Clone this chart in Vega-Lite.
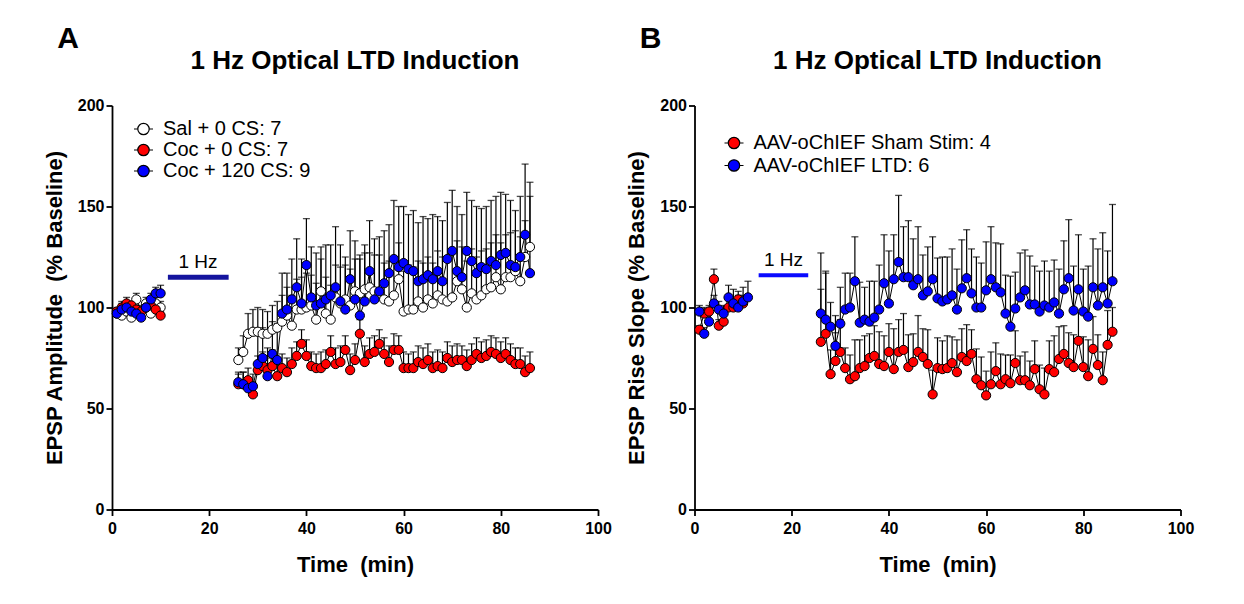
{
 "$schema": "https://vega.github.io/schema/vega-lite/v6.json",
 "background": "white",
 "padding": {"left": 43, "top": 23.5, "right": 5, "bottom": 5},
 "config": {
  "font": "Liberation Sans",
  "view": {"stroke": null},
  "axis": {"grid": false, "labelFlush": false, "domainColor": "black", "domainWidth": 1.8, "tickColor": "black", "tickWidth": 1.8, "tickSize": 6, "labelFont": "Liberation Sans", "labelFontSize": 16, "labelFontWeight": "bold", "labelColor": "black", "labelPadding": 3, "titleFont": "Liberation Sans", "titleFontSize": 22, "titleFontWeight": "bold", "titleColor": "black"},
  "title": {"font": "Liberation Sans", "color": "black", "fontWeight": "bold"}
 },
 "datasets": {
  "a": [
   {"s":"Sal + 0 CS: 7","g":"b","t":1,"v":97,"u":99},{"s":"Sal + 0 CS: 7","g":"b","t":2,"v":96,"u":98},{"s":"Sal + 0 CS: 7","g":"b","t":3,"v":98,"u":101},{"s":"Sal + 0 CS: 7","g":"b","t":4,"v":95,"u":97},{"s":"Sal + 0 CS: 7","g":"b","t":5,"v":104,"u":107},{"s":"Sal + 0 CS: 7","g":"b","t":6,"v":98,"u":101},{"s":"Sal + 0 CS: 7","g":"b","t":7,"v":102,"u":105},{"s":"Sal + 0 CS: 7","g":"b","t":8,"v":97,"u":99},{"s":"Sal + 0 CS: 7","g":"b","t":9,"v":102,"u":105},{"s":"Sal + 0 CS: 7","g":"b","t":10,"v":100,"u":103},
   {"s":"Sal + 0 CS: 7","g":"p","t":26,"v":74,"u":80},{"s":"Sal + 0 CS: 7","g":"p","t":27,"v":78,"u":86},{"s":"Sal + 0 CS: 7","g":"p","t":28,"v":87,"u":97},{"s":"Sal + 0 CS: 7","g":"p","t":29,"v":88,"u":99},{"s":"Sal + 0 CS: 7","g":"p","t":30,"v":88,"u":100},{"s":"Sal + 0 CS: 7","g":"p","t":31,"v":87,"u":99},{"s":"Sal + 0 CS: 7","g":"p","t":32,"v":87,"u":98},{"s":"Sal + 0 CS: 7","g":"p","t":33,"v":89,"u":101},{"s":"Sal + 0 CS: 7","g":"p","t":34,"v":90,"u":103},{"s":"Sal + 0 CS: 7","g":"p","t":35,"v":93,"u":106},
   {"s":"Sal + 0 CS: 7","g":"p","t":36,"v":96,"u":110},{"s":"Sal + 0 CS: 7","g":"p","t":37,"v":91,"u":106},{"s":"Sal + 0 CS: 7","g":"p","t":38,"v":99,"u":114},{"s":"Sal + 0 CS: 7","g":"p","t":39,"v":99,"u":115},{"s":"Sal + 0 CS: 7","g":"p","t":40,"v":100,"u":117},{"s":"Sal + 0 CS: 7","g":"p","t":41,"v":101,"u":116},{"s":"Sal + 0 CS: 7","g":"p","t":42,"v":94,"u":112},{"s":"Sal + 0 CS: 7","g":"p","t":43,"v":108,"u":124},{"s":"Sal + 0 CS: 7","g":"p","t":44,"v":97,"u":115},{"s":"Sal + 0 CS: 7","g":"p","t":45,"v":94,"u":111},
   {"s":"Sal + 0 CS: 7","g":"p","t":46,"v":105,"u":121},{"s":"Sal + 0 CS: 7","g":"p","t":47,"v":102,"u":120},{"s":"Sal + 0 CS: 7","g":"p","t":48,"v":104,"u":121},{"s":"Sal + 0 CS: 7","g":"p","t":49,"v":101,"u":119},{"s":"Sal + 0 CS: 7","g":"p","t":50,"v":108,"u":124},{"s":"Sal + 0 CS: 7","g":"p","t":51,"v":107,"u":124},{"s":"Sal + 0 CS: 7","g":"p","t":52,"v":109,"u":127},{"s":"Sal + 0 CS: 7","g":"p","t":53,"v":110,"u":127},{"s":"Sal + 0 CS: 7","g":"p","t":54,"v":108,"u":126},{"s":"Sal + 0 CS: 7","g":"p","t":55,"v":107,"u":126},
   {"s":"Sal + 0 CS: 7","g":"p","t":56,"v":104,"u":122},{"s":"Sal + 0 CS: 7","g":"p","t":57,"v":103,"u":123},{"s":"Sal + 0 CS: 7","g":"p","t":58,"v":106,"u":125},{"s":"Sal + 0 CS: 7","g":"p","t":59,"v":114,"u":132},{"s":"Sal + 0 CS: 7","g":"p","t":60,"v":98,"u":118},{"s":"Sal + 0 CS: 7","g":"p","t":61,"v":99,"u":121},{"s":"Sal + 0 CS: 7","g":"p","t":62,"v":99,"u":120},{"s":"Sal + 0 CS: 7","g":"p","t":63,"v":103,"u":123},{"s":"Sal + 0 CS: 7","g":"p","t":64,"v":100,"u":122},{"s":"Sal + 0 CS: 7","g":"p","t":65,"v":104,"u":125},
   {"s":"Sal + 0 CS: 7","g":"p","t":66,"v":102,"u":122},{"s":"Sal + 0 CS: 7","g":"p","t":67,"v":106,"u":128},{"s":"Sal + 0 CS: 7","g":"p","t":68,"v":104,"u":125},{"s":"Sal + 0 CS: 7","g":"p","t":69,"v":103,"u":125},{"s":"Sal + 0 CS: 7","g":"p","t":70,"v":105,"u":128},{"s":"Sal + 0 CS: 7","g":"p","t":71,"v":113,"u":133},{"s":"Sal + 0 CS: 7","g":"p","t":72,"v":109,"u":130},{"s":"Sal + 0 CS: 7","g":"p","t":73,"v":100,"u":123},{"s":"Sal + 0 CS: 7","g":"p","t":74,"v":107,"u":129},{"s":"Sal + 0 CS: 7","g":"p","t":75,"v":104,"u":125},
   {"s":"Sal + 0 CS: 7","g":"p","t":76,"v":106,"u":128},{"s":"Sal + 0 CS: 7","g":"p","t":77,"v":109,"u":129},{"s":"Sal + 0 CS: 7","g":"p","t":78,"v":110,"u":132},{"s":"Sal + 0 CS: 7","g":"p","t":79,"v":115,"u":136},{"s":"Sal + 0 CS: 7","g":"p","t":80,"v":109,"u":132},{"s":"Sal + 0 CS: 7","g":"p","t":81,"v":115,"u":136},{"s":"Sal + 0 CS: 7","g":"p","t":82,"v":115,"u":137},{"s":"Sal + 0 CS: 7","g":"p","t":83,"v":118,"u":138},{"s":"Sal + 0 CS: 7","g":"p","t":84,"v":113,"u":135},{"s":"Sal + 0 CS: 7","g":"p","t":85,"v":125,"u":143},
   {"s":"Sal + 0 CS: 7","g":"p","t":86,"v":130,"u":155},
   {"s":"Coc + 0 CS: 7","g":"b","t":1,"v":98,"u":100},{"s":"Coc + 0 CS: 7","g":"b","t":2,"v":100,"u":103},{"s":"Coc + 0 CS: 7","g":"b","t":3,"v":102,"u":105},{"s":"Coc + 0 CS: 7","g":"b","t":4,"v":101,"u":103},{"s":"Coc + 0 CS: 7","g":"b","t":5,"v":99,"u":101},{"s":"Coc + 0 CS: 7","g":"b","t":6,"v":98,"u":100},{"s":"Coc + 0 CS: 7","g":"b","t":7,"v":100,"u":103},{"s":"Coc + 0 CS: 7","g":"b","t":8,"v":101,"u":103},{"s":"Coc + 0 CS: 7","g":"b","t":9,"v":99,"u":101},{"s":"Coc + 0 CS: 7","g":"b","t":10,"v":96,"u":98},
   {"s":"Coc + 0 CS: 7","g":"p","t":26,"v":62,"u":67},{"s":"Coc + 0 CS: 7","g":"p","t":27,"v":62,"u":68},{"s":"Coc + 0 CS: 7","g":"p","t":28,"v":64,"u":70},{"s":"Coc + 0 CS: 7","g":"p","t":29,"v":57,"u":63},{"s":"Coc + 0 CS: 7","g":"p","t":30,"v":69,"u":76},{"s":"Coc + 0 CS: 7","g":"p","t":31,"v":71,"u":78},{"s":"Coc + 0 CS: 7","g":"p","t":32,"v":69,"u":75},{"s":"Coc + 0 CS: 7","g":"p","t":33,"v":71,"u":79},{"s":"Coc + 0 CS: 7","g":"p","t":34,"v":66,"u":73},{"s":"Coc + 0 CS: 7","g":"p","t":35,"v":70,"u":77},
   {"s":"Coc + 0 CS: 7","g":"p","t":36,"v":68,"u":75},{"s":"Coc + 0 CS: 7","g":"p","t":37,"v":72,"u":80},{"s":"Coc + 0 CS: 7","g":"p","t":38,"v":76,"u":83},{"s":"Coc + 0 CS: 7","g":"p","t":39,"v":82,"u":89},{"s":"Coc + 0 CS: 7","g":"p","t":40,"v":76,"u":84},{"s":"Coc + 0 CS: 7","g":"p","t":41,"v":71,"u":78},{"s":"Coc + 0 CS: 7","g":"p","t":42,"v":70,"u":77},{"s":"Coc + 0 CS: 7","g":"p","t":43,"v":70,"u":78},{"s":"Coc + 0 CS: 7","g":"p","t":44,"v":72,"u":79},{"s":"Coc + 0 CS: 7","g":"p","t":45,"v":78,"u":86},
   {"s":"Coc + 0 CS: 7","g":"p","t":46,"v":72,"u":80},{"s":"Coc + 0 CS: 7","g":"p","t":47,"v":73,"u":81},{"s":"Coc + 0 CS: 7","g":"p","t":48,"v":79,"u":86},{"s":"Coc + 0 CS: 7","g":"p","t":49,"v":69,"u":77},{"s":"Coc + 0 CS: 7","g":"p","t":50,"v":74,"u":82},{"s":"Coc + 0 CS: 7","g":"p","t":51,"v":87,"u":94},{"s":"Coc + 0 CS: 7","g":"p","t":52,"v":73,"u":81},{"s":"Coc + 0 CS: 7","g":"p","t":53,"v":77,"u":85},{"s":"Coc + 0 CS: 7","g":"p","t":54,"v":78,"u":86},{"s":"Coc + 0 CS: 7","g":"p","t":55,"v":82,"u":89},
   {"s":"Coc + 0 CS: 7","g":"p","t":56,"v":77,"u":85},{"s":"Coc + 0 CS: 7","g":"p","t":57,"v":73,"u":81},{"s":"Coc + 0 CS: 7","g":"p","t":58,"v":79,"u":87},{"s":"Coc + 0 CS: 7","g":"p","t":59,"v":79,"u":86},{"s":"Coc + 0 CS: 7","g":"p","t":60,"v":70,"u":78},{"s":"Coc + 0 CS: 7","g":"p","t":61,"v":70,"u":77},{"s":"Coc + 0 CS: 7","g":"p","t":62,"v":70,"u":78},{"s":"Coc + 0 CS: 7","g":"p","t":63,"v":73,"u":81},{"s":"Coc + 0 CS: 7","g":"p","t":64,"v":72,"u":80},{"s":"Coc + 0 CS: 7","g":"p","t":65,"v":74,"u":82},
   {"s":"Coc + 0 CS: 7","g":"p","t":66,"v":70,"u":78},{"s":"Coc + 0 CS: 7","g":"p","t":67,"v":71,"u":79},{"s":"Coc + 0 CS: 7","g":"p","t":68,"v":70,"u":78},{"s":"Coc + 0 CS: 7","g":"p","t":69,"v":75,"u":83},{"s":"Coc + 0 CS: 7","g":"p","t":70,"v":73,"u":81},{"s":"Coc + 0 CS: 7","g":"p","t":71,"v":74,"u":82},{"s":"Coc + 0 CS: 7","g":"p","t":72,"v":74,"u":81},{"s":"Coc + 0 CS: 7","g":"p","t":73,"v":71,"u":79},{"s":"Coc + 0 CS: 7","g":"p","t":74,"v":74,"u":82},{"s":"Coc + 0 CS: 7","g":"p","t":75,"v":77,"u":85},
   {"s":"Coc + 0 CS: 7","g":"p","t":76,"v":75,"u":83},{"s":"Coc + 0 CS: 7","g":"p","t":77,"v":76,"u":84},{"s":"Coc + 0 CS: 7","g":"p","t":78,"v":78,"u":86},{"s":"Coc + 0 CS: 7","g":"p","t":79,"v":77,"u":85},{"s":"Coc + 0 CS: 7","g":"p","t":80,"v":75,"u":83},{"s":"Coc + 0 CS: 7","g":"p","t":81,"v":77,"u":85},{"s":"Coc + 0 CS: 7","g":"p","t":82,"v":74,"u":82},{"s":"Coc + 0 CS: 7","g":"p","t":83,"v":72,"u":80},{"s":"Coc + 0 CS: 7","g":"p","t":84,"v":72,"u":80},{"s":"Coc + 0 CS: 7","g":"p","t":85,"v":68,"u":76},
   {"s":"Coc + 0 CS: 7","g":"p","t":86,"v":70,"u":78},
   {"s":"Coc + 120 CS: 9","g":"b","t":1,"v":97,"u":99},{"s":"Coc + 120 CS: 9","g":"b","t":2,"v":99,"u":102},{"s":"Coc + 120 CS: 9","g":"b","t":3,"v":100,"u":102},{"s":"Coc + 120 CS: 9","g":"b","t":4,"v":98,"u":101},{"s":"Coc + 120 CS: 9","g":"b","t":5,"v":97,"u":99},{"s":"Coc + 120 CS: 9","g":"b","t":6,"v":95,"u":98},{"s":"Coc + 120 CS: 9","g":"b","t":7,"v":100,"u":103},{"s":"Coc + 120 CS: 9","g":"b","t":8,"v":104,"u":107},{"s":"Coc + 120 CS: 9","g":"b","t":9,"v":107,"u":110},{"s":"Coc + 120 CS: 9","g":"b","t":10,"v":107,"u":111},
   {"s":"Coc + 120 CS: 9","g":"p","t":26,"v":63,"u":68},{"s":"Coc + 120 CS: 9","g":"p","t":27,"v":62,"u":68},{"s":"Coc + 120 CS: 9","g":"p","t":28,"v":60,"u":65},{"s":"Coc + 120 CS: 9","g":"p","t":29,"v":61,"u":67},{"s":"Coc + 120 CS: 9","g":"p","t":30,"v":72,"u":86},{"s":"Coc + 120 CS: 9","g":"p","t":31,"v":75,"u":90},{"s":"Coc + 120 CS: 9","g":"p","t":32,"v":66,"u":80},{"s":"Coc + 120 CS: 9","g":"p","t":33,"v":77,"u":93},{"s":"Coc + 120 CS: 9","g":"p","t":34,"v":74,"u":92},{"s":"Coc + 120 CS: 9","g":"p","t":35,"v":97,"u":117},
   {"s":"Coc + 120 CS: 9","g":"p","t":36,"v":99,"u":117},{"s":"Coc + 120 CS: 9","g":"p","t":37,"v":104,"u":124},{"s":"Coc + 120 CS: 9","g":"p","t":38,"v":110,"u":134},{"s":"Coc + 120 CS: 9","g":"p","t":39,"v":102,"u":124},{"s":"Coc + 120 CS: 9","g":"p","t":40,"v":121,"u":144},{"s":"Coc + 120 CS: 9","g":"p","t":41,"v":105,"u":130},{"s":"Coc + 120 CS: 9","g":"p","t":42,"v":101,"u":127},{"s":"Coc + 120 CS: 9","g":"p","t":43,"v":102,"u":130},{"s":"Coc + 120 CS: 9","g":"p","t":44,"v":104,"u":131},{"s":"Coc + 120 CS: 9","g":"p","t":45,"v":106,"u":131},
   {"s":"Coc + 120 CS: 9","g":"p","t":46,"v":110,"u":140},{"s":"Coc + 120 CS: 9","g":"p","t":47,"v":103,"u":131},{"s":"Coc + 120 CS: 9","g":"p","t":48,"v":99,"u":125},{"s":"Coc + 120 CS: 9","g":"p","t":49,"v":114,"u":138},{"s":"Coc + 120 CS: 9","g":"p","t":50,"v":104,"u":133},{"s":"Coc + 120 CS: 9","g":"p","t":51,"v":96,"u":126},{"s":"Coc + 120 CS: 9","g":"p","t":52,"v":103,"u":131},{"s":"Coc + 120 CS: 9","g":"p","t":53,"v":118,"u":143},{"s":"Coc + 120 CS: 9","g":"p","t":54,"v":104,"u":134},{"s":"Coc + 120 CS: 9","g":"p","t":55,"v":108,"u":135},
   {"s":"Coc + 120 CS: 9","g":"p","t":56,"v":112,"u":138},{"s":"Coc + 120 CS: 9","g":"p","t":57,"v":117,"u":141},{"s":"Coc + 120 CS: 9","g":"p","t":58,"v":124,"u":153},{"s":"Coc + 120 CS: 9","g":"p","t":59,"v":120,"u":150},{"s":"Coc + 120 CS: 9","g":"p","t":60,"v":122,"u":150},{"s":"Coc + 120 CS: 9","g":"p","t":61,"v":119,"u":146},{"s":"Coc + 120 CS: 9","g":"p","t":62,"v":118,"u":148},{"s":"Coc + 120 CS: 9","g":"p","t":63,"v":113,"u":142},{"s":"Coc + 120 CS: 9","g":"p","t":64,"v":114,"u":145},{"s":"Coc + 120 CS: 9","g":"p","t":65,"v":116,"u":144},
   {"s":"Coc + 120 CS: 9","g":"p","t":66,"v":114,"u":146},{"s":"Coc + 120 CS: 9","g":"p","t":67,"v":118,"u":145},{"s":"Coc + 120 CS: 9","g":"p","t":68,"v":113,"u":143},{"s":"Coc + 120 CS: 9","g":"p","t":69,"v":124,"u":152},{"s":"Coc + 120 CS: 9","g":"p","t":70,"v":128,"u":158},{"s":"Coc + 120 CS: 9","g":"p","t":71,"v":118,"u":150},{"s":"Coc + 120 CS: 9","g":"p","t":72,"v":115,"u":146},{"s":"Coc + 120 CS: 9","g":"p","t":73,"v":128,"u":157},{"s":"Coc + 120 CS: 9","g":"p","t":74,"v":123,"u":153},{"s":"Coc + 120 CS: 9","g":"p","t":75,"v":117,"u":150},
   {"s":"Coc + 120 CS: 9","g":"p","t":76,"v":120,"u":149},{"s":"Coc + 120 CS: 9","g":"p","t":77,"v":119,"u":150},{"s":"Coc + 120 CS: 9","g":"p","t":78,"v":123,"u":153},{"s":"Coc + 120 CS: 9","g":"p","t":79,"v":121,"u":155},{"s":"Coc + 120 CS: 9","g":"p","t":80,"v":126,"u":157},{"s":"Coc + 120 CS: 9","g":"p","t":81,"v":127,"u":156},{"s":"Coc + 120 CS: 9","g":"p","t":82,"v":121,"u":153},{"s":"Coc + 120 CS: 9","g":"p","t":83,"v":120,"u":148},{"s":"Coc + 120 CS: 9","g":"p","t":84,"v":125,"u":155},{"s":"Coc + 120 CS: 9","g":"p","t":85,"v":136,"u":171},
   {"s":"Coc + 120 CS: 9","g":"p","t":86,"v":117,"u":162}
  ],
  "b": [
   {"s":"AAV-oChIEF Sham Stim: 4","g":"b","t":1,"v":89,"u":91},{"s":"AAV-oChIEF Sham Stim: 4","g":"b","t":2,"v":97,"u":100},{"s":"AAV-oChIEF Sham Stim: 4","g":"b","t":3,"v":98,"u":101},{"s":"AAV-oChIEF Sham Stim: 4","g":"b","t":4,"v":114,"u":119},{"s":"AAV-oChIEF Sham Stim: 4","g":"b","t":5,"v":91,"u":94},{"s":"AAV-oChIEF Sham Stim: 4","g":"b","t":6,"v":93,"u":96},{"s":"AAV-oChIEF Sham Stim: 4","g":"b","t":7,"v":100,"u":104},{"s":"AAV-oChIEF Sham Stim: 4","g":"b","t":8,"v":100,"u":104},{"s":"AAV-oChIEF Sham Stim: 4","g":"b","t":9,"v":104,"u":108},{"s":"AAV-oChIEF Sham Stim: 4","g":"b","t":10,"v":102,"u":106},
   {"s":"AAV-oChIEF Sham Stim: 4","g":"p","t":26,"v":83,"u":109},{"s":"AAV-oChIEF Sham Stim: 4","g":"p","t":27,"v":87,"u":117},{"s":"AAV-oChIEF Sham Stim: 4","g":"p","t":28,"v":67,"u":79},{"s":"AAV-oChIEF Sham Stim: 4","g":"p","t":29,"v":73.5,"u":87.5},{"s":"AAV-oChIEF Sham Stim: 4","g":"p","t":30,"v":78,"u":94},{"s":"AAV-oChIEF Sham Stim: 4","g":"p","t":31,"v":70,"u":80},{"s":"AAV-oChIEF Sham Stim: 4","g":"p","t":32,"v":64.5,"u":76.5},{"s":"AAV-oChIEF Sham Stim: 4","g":"p","t":33,"v":66,"u":84},{"s":"AAV-oChIEF Sham Stim: 4","g":"p","t":34,"v":70,"u":84},{"s":"AAV-oChIEF Sham Stim: 4","g":"p","t":35,"v":71,"u":86},
   {"s":"AAV-oChIEF Sham Stim: 4","g":"p","t":36,"v":75,"u":87},{"s":"AAV-oChIEF Sham Stim: 4","g":"p","t":37,"v":76,"u":91},{"s":"AAV-oChIEF Sham Stim: 4","g":"p","t":38,"v":72,"u":88},{"s":"AAV-oChIEF Sham Stim: 4","g":"p","t":39,"v":71,"u":86},{"s":"AAV-oChIEF Sham Stim: 4","g":"p","t":40,"v":78,"u":92},{"s":"AAV-oChIEF Sham Stim: 4","g":"p","t":41,"v":69.5,"u":89.5},{"s":"AAV-oChIEF Sham Stim: 4","g":"p","t":42,"v":78,"u":94},{"s":"AAV-oChIEF Sham Stim: 4","g":"p","t":43,"v":79,"u":97},{"s":"AAV-oChIEF Sham Stim: 4","g":"p","t":44,"v":70.5,"u":86.5},{"s":"AAV-oChIEF Sham Stim: 4","g":"p","t":45,"v":73,"u":87},
   {"s":"AAV-oChIEF Sham Stim: 4","g":"p","t":46,"v":78,"u":96},{"s":"AAV-oChIEF Sham Stim: 4","g":"p","t":47,"v":75.5,"u":89.5},{"s":"AAV-oChIEF Sham Stim: 4","g":"p","t":48,"v":72,"u":89},{"s":"AAV-oChIEF Sham Stim: 4","g":"p","t":49,"v":57,"u":69},{"s":"AAV-oChIEF Sham Stim: 4","g":"p","t":50,"v":70,"u":85},{"s":"AAV-oChIEF Sham Stim: 4","g":"p","t":51,"v":69.5,"u":83.5},{"s":"AAV-oChIEF Sham Stim: 4","g":"p","t":52,"v":70,"u":86},{"s":"AAV-oChIEF Sham Stim: 4","g":"p","t":53,"v":72.5,"u":85.5},{"s":"AAV-oChIEF Sham Stim: 4","g":"p","t":54,"v":68,"u":84},{"s":"AAV-oChIEF Sham Stim: 4","g":"p","t":55,"v":75.5,"u":89.5},
   {"s":"AAV-oChIEF Sham Stim: 4","g":"p","t":56,"v":73.5,"u":91.5},{"s":"AAV-oChIEF Sham Stim: 4","g":"p","t":57,"v":77,"u":89},{"s":"AAV-oChIEF Sham Stim: 4","g":"p","t":58,"v":64.5,"u":79.5},{"s":"AAV-oChIEF Sham Stim: 4","g":"p","t":59,"v":61.5,"u":75.5},{"s":"AAV-oChIEF Sham Stim: 4","g":"p","t":60,"v":56.5,"u":68.5},{"s":"AAV-oChIEF Sham Stim: 4","g":"p","t":61,"v":62,"u":78},{"s":"AAV-oChIEF Sham Stim: 4","g":"p","t":62,"v":68.5,"u":82.5},{"s":"AAV-oChIEF Sham Stim: 4","g":"p","t":63,"v":62,"u":77},{"s":"AAV-oChIEF Sham Stim: 4","g":"p","t":64,"v":64.5,"u":76.5},{"s":"AAV-oChIEF Sham Stim: 4","g":"p","t":65,"v":62.5,"u":76.5},
   {"s":"AAV-oChIEF Sham Stim: 4","g":"p","t":66,"v":72.5,"u":88.5},{"s":"AAV-oChIEF Sham Stim: 4","g":"p","t":67,"v":64,"u":76},{"s":"AAV-oChIEF Sham Stim: 4","g":"p","t":68,"v":64,"u":78},{"s":"AAV-oChIEF Sham Stim: 4","g":"p","t":69,"v":61.5,"u":73.5},{"s":"AAV-oChIEF Sham Stim: 4","g":"p","t":70,"v":69.5,"u":83.5},{"s":"AAV-oChIEF Sham Stim: 4","g":"p","t":71,"v":59.5,"u":71.5},{"s":"AAV-oChIEF Sham Stim: 4","g":"p","t":72,"v":57,"u":70},{"s":"AAV-oChIEF Sham Stim: 4","g":"p","t":73,"v":69.5,"u":83.5},{"s":"AAV-oChIEF Sham Stim: 4","g":"p","t":74,"v":68,"u":86},{"s":"AAV-oChIEF Sham Stim: 4","g":"p","t":75,"v":74.5,"u":90.5},
   {"s":"AAV-oChIEF Sham Stim: 4","g":"p","t":76,"v":77,"u":91},{"s":"AAV-oChIEF Sham Stim: 4","g":"p","t":77,"v":72.5,"u":87.5},{"s":"AAV-oChIEF Sham Stim: 4","g":"p","t":78,"v":70.5,"u":86.5},{"s":"AAV-oChIEF Sham Stim: 4","g":"p","t":79,"v":83.5,"u":97.5},{"s":"AAV-oChIEF Sham Stim: 4","g":"p","t":80,"v":70.5,"u":85.5},{"s":"AAV-oChIEF Sham Stim: 4","g":"p","t":81,"v":66,"u":84},{"s":"AAV-oChIEF Sham Stim: 4","g":"p","t":82,"v":79.5,"u":95.5},{"s":"AAV-oChIEF Sham Stim: 4","g":"p","t":83,"v":71.5,"u":86.5},{"s":"AAV-oChIEF Sham Stim: 4","g":"p","t":84,"v":64,"u":78},{"s":"AAV-oChIEF Sham Stim: 4","g":"p","t":85,"v":81.5,"u":98.5},
   {"s":"AAV-oChIEF Sham Stim: 4","g":"p","t":86,"v":88,"u":100},
   {"s":"AAV-oChIEF LTD: 6","g":"b","t":1,"v":98,"u":101},{"s":"AAV-oChIEF LTD: 6","g":"b","t":2,"v":87,"u":90},{"s":"AAV-oChIEF LTD: 6","g":"b","t":3,"v":93,"u":97},{"s":"AAV-oChIEF LTD: 6","g":"b","t":4,"v":102,"u":106},{"s":"AAV-oChIEF LTD: 6","g":"b","t":5,"v":99,"u":103},{"s":"AAV-oChIEF LTD: 6","g":"b","t":6,"v":97,"u":101},{"s":"AAV-oChIEF LTD: 6","g":"b","t":7,"v":105,"u":111},{"s":"AAV-oChIEF LTD: 6","g":"b","t":8,"v":102,"u":109},{"s":"AAV-oChIEF LTD: 6","g":"b","t":9,"v":100,"u":106},{"s":"AAV-oChIEF LTD: 6","g":"b","t":10,"v":103,"u":110},{"s":"AAV-oChIEF LTD: 6","g":"b","t":11,"v":105,"u":113},
   {"s":"AAV-oChIEF LTD: 6","g":"p","t":26,"v":97,"u":127},{"s":"AAV-oChIEF LTD: 6","g":"p","t":27,"v":94,"u":118},{"s":"AAV-oChIEF LTD: 6","g":"p","t":28,"v":90.5,"u":102.5},{"s":"AAV-oChIEF LTD: 6","g":"p","t":29,"v":81,"u":96},{"s":"AAV-oChIEF LTD: 6","g":"p","t":30,"v":92,"u":110},{"s":"AAV-oChIEF LTD: 6","g":"p","t":31,"v":99,"u":117},{"s":"AAV-oChIEF LTD: 6","g":"p","t":32,"v":100,"u":117},{"s":"AAV-oChIEF LTD: 6","g":"p","t":33,"v":113,"u":135},{"s":"AAV-oChIEF LTD: 6","g":"p","t":34,"v":92.5,"u":112.5},{"s":"AAV-oChIEF LTD: 6","g":"p","t":35,"v":94,"u":110},
   {"s":"AAV-oChIEF LTD: 6","g":"p","t":36,"v":93,"u":113},{"s":"AAV-oChIEF LTD: 6","g":"p","t":37,"v":95,"u":113},{"s":"AAV-oChIEF LTD: 6","g":"p","t":38,"v":99,"u":121},{"s":"AAV-oChIEF LTD: 6","g":"p","t":39,"v":112,"u":136},{"s":"AAV-oChIEF LTD: 6","g":"p","t":40,"v":102,"u":128},{"s":"AAV-oChIEF LTD: 6","g":"p","t":41,"v":114,"u":136},{"s":"AAV-oChIEF LTD: 6","g":"p","t":42,"v":122.5,"u":155.5},{"s":"AAV-oChIEF LTD: 6","g":"p","t":43,"v":115,"u":140},{"s":"AAV-oChIEF LTD: 6","g":"p","t":44,"v":115,"u":143},{"s":"AAV-oChIEF LTD: 6","g":"p","t":45,"v":111,"u":134},
   {"s":"AAV-oChIEF LTD: 6","g":"p","t":46,"v":114,"u":140},{"s":"AAV-oChIEF LTD: 6","g":"p","t":47,"v":106,"u":126},{"s":"AAV-oChIEF LTD: 6","g":"p","t":48,"v":108,"u":130},{"s":"AAV-oChIEF LTD: 6","g":"p","t":49,"v":114,"u":135},{"s":"AAV-oChIEF LTD: 6","g":"p","t":50,"v":104.5,"u":124.5},{"s":"AAV-oChIEF LTD: 6","g":"p","t":51,"v":103,"u":125},{"s":"AAV-oChIEF LTD: 6","g":"p","t":52,"v":104,"u":125},{"s":"AAV-oChIEF LTD: 6","g":"p","t":53,"v":106,"u":129},{"s":"AAV-oChIEF LTD: 6","g":"p","t":54,"v":99,"u":119},{"s":"AAV-oChIEF LTD: 6","g":"p","t":55,"v":109.5,"u":133.5},
   {"s":"AAV-oChIEF LTD: 6","g":"p","t":56,"v":114.5,"u":138.5},{"s":"AAV-oChIEF LTD: 6","g":"p","t":57,"v":107,"u":129},{"s":"AAV-oChIEF LTD: 6","g":"p","t":58,"v":100,"u":125},{"s":"AAV-oChIEF LTD: 6","g":"p","t":59,"v":100,"u":122},{"s":"AAV-oChIEF LTD: 6","g":"p","t":60,"v":108.5,"u":132.5},{"s":"AAV-oChIEF LTD: 6","g":"p","t":61,"v":114,"u":140},{"s":"AAV-oChIEF LTD: 6","g":"p","t":62,"v":110,"u":132},{"s":"AAV-oChIEF LTD: 6","g":"p","t":63,"v":107.5,"u":131.5},{"s":"AAV-oChIEF LTD: 6","g":"p","t":64,"v":97,"u":116},{"s":"AAV-oChIEF LTD: 6","g":"p","t":65,"v":90.5,"u":115.5},
   {"s":"AAV-oChIEF LTD: 6","g":"p","t":66,"v":99.5,"u":117.5},{"s":"AAV-oChIEF LTD: 6","g":"p","t":67,"v":105,"u":127},{"s":"AAV-oChIEF LTD: 6","g":"p","t":68,"v":108.5,"u":128.5},{"s":"AAV-oChIEF LTD: 6","g":"p","t":69,"v":101.5,"u":125.5},{"s":"AAV-oChIEF LTD: 6","g":"p","t":70,"v":101.5,"u":120.5},{"s":"AAV-oChIEF LTD: 6","g":"p","t":71,"v":98,"u":118},{"s":"AAV-oChIEF LTD: 6","g":"p","t":72,"v":101,"u":123},{"s":"AAV-oChIEF LTD: 6","g":"p","t":73,"v":100,"u":118},{"s":"AAV-oChIEF LTD: 6","g":"p","t":74,"v":102.5,"u":123.5},{"s":"AAV-oChIEF LTD: 6","g":"p","t":75,"v":97,"u":119},
   {"s":"AAV-oChIEF LTD: 6","g":"p","t":76,"v":109,"u":133},{"s":"AAV-oChIEF LTD: 6","g":"p","t":77,"v":114.5,"u":143.5},{"s":"AAV-oChIEF LTD: 6","g":"p","t":78,"v":98.5,"u":120.5},{"s":"AAV-oChIEF LTD: 6","g":"p","t":79,"v":109,"u":136},{"s":"AAV-oChIEF LTD: 6","g":"p","t":80,"v":98,"u":119},{"s":"AAV-oChIEF LTD: 6","g":"p","t":81,"v":95.5,"u":120.5},{"s":"AAV-oChIEF LTD: 6","g":"p","t":82,"v":110,"u":134},{"s":"AAV-oChIEF LTD: 6","g":"p","t":83,"v":101,"u":129},{"s":"AAV-oChIEF LTD: 6","g":"p","t":84,"v":110,"u":137},{"s":"AAV-oChIEF LTD: 6","g":"p","t":85,"v":102,"u":128},
   {"s":"AAV-oChIEF LTD: 6","g":"p","t":86,"v":113,"u":151}
  ]
 },
 "spacing": 13.5,
 "resolve": {"scale": {"fill": "independent"}, "legend": {"fill": "independent"}},
 "hconcat": [
  {
   "title": {"text": "A", "fontSize": 30, "anchor": "start", "frame": "bounds", "offset": -6, "dx": 14},
   "vconcat": [
    {
     "width": 486, "height": 404,
     "title": {"text": "1 Hz Optical LTD Induction", "fontSize": 26, "anchor": "middle", "frame": "group", "offset": 24},
     "data": {"name": "a"},
     "encoding": {
      "x": {"field": "t", "type": "quantitative", "scale": {"domain": [0, 100], "nice": false, "padding": 0}, "axis": {"title": "Time\u00a0 (min)", "values": [0, 20, 40, 60, 80, 100], "titlePadding": 18, "labelPadding": 5}},
      "y": {"field": "v", "type": "quantitative", "scale": {"domain": [0, 200], "nice": false, "padding": 0}, "axis": {"title": "EPSP Amplitude\u00a0 (% Baseline)", "values": [0, 50, 100, 150, 200], "titlePadding": 11, "labelPadding": 2}}
     },
     "layer": [
      {"mark": {"type": "rule", "color": "black", "strokeWidth": 1.2}, "encoding": {"y2": {"field": "u"}}},
      {"mark": {"type": "tick", "orient": "horizontal", "color": "black", "size": 7, "thickness": 1.3}, "encoding": {"y": {"field": "u", "type": "quantitative", "axis": {"title": "EPSP Amplitude\u00a0 (% Baseline)", "values": [0, 50, 100, 150, 200], "titlePadding": 11, "labelPadding": 2}}}},
      {"mark": {"type": "line", "color": "black", "strokeWidth": 1}, "encoding": {"detail": [{"field": "s"}, {"field": "g"}]}},
      {"mark": {"type": "point", "shape": "circle", "filled": true, "stroke": "black", "strokeWidth": 1, "size": 85, "opacity": 1},
       "encoding": {"fill": {"field": "s", "type": "nominal",
        "scale": {"domain": ["Sal + 0 CS: 7", "Coc + 0 CS: 7", "Coc + 120 CS: 9"], "range": ["#ffffff", "#ff0000", "#0000ff"]},
        "legend": {"orient": "none", "legendX": 21, "legendY": 13, "title": null, "padding": 0, "rowPadding": -5, "symbolType": "M-1,0H-0.6M0.6,0H1M-0.6,0A0.6,0.6,0,1,0,0.6,0A0.6,0.6,0,1,0,-0.6,0Z", "symbolSize": 361, "symbolStrokeColor": "black", "symbolStrokeWidth": 1.2, "symbolOpacity": 1, "labelFont": "Liberation Sans", "labelFontSize": 20, "labelColor": "black", "labelOffset": 9, "labelLimit": 400}}}},
      {"data": {"values": [{"t": 11.5, "t2": 24, "v": 115}]}, "mark": {"type": "rule", "color": "#14149e", "strokeWidth": 5}, "encoding": {"x2": {"field": "t2"}}},
      {"data": {"values": [{"t": 17.7, "v": 119.5, "label": "1 Hz"}]}, "mark": {"type": "text", "fontSize": 19, "baseline": "alphabetic", "color": "black", "font": "Liberation Sans"}, "encoding": {"text": {"field": "label"}}}
     ]
    }
   ]
  },
  {
   "title": {"text": "B", "fontSize": 30, "anchor": "start", "frame": "bounds", "offset": -6, "dx": 14},
   "vconcat": [
    {
     "width": 486, "height": 404,
     "title": {"text": "1 Hz Optical LTD Induction", "fontSize": 26, "anchor": "middle", "frame": "group", "offset": 24},
     "data": {"name": "b"},
     "encoding": {
      "x": {"field": "t", "type": "quantitative", "scale": {"domain": [0, 100], "nice": false, "padding": 0}, "axis": {"title": "Time\u00a0 (min)", "values": [0, 20, 40, 60, 80, 100], "titlePadding": 18, "labelPadding": 5}},
      "y": {"field": "v", "type": "quantitative", "scale": {"domain": [0, 200], "nice": false, "padding": 0}, "axis": {"title": "EPSP Rise Slope (% Baseline)", "values": [0, 50, 100, 150, 200], "titlePadding": 11, "labelPadding": 2}}
     },
     "layer": [
      {"mark": {"type": "rule", "color": "black", "strokeWidth": 1.2}, "encoding": {"y2": {"field": "u"}}},
      {"mark": {"type": "tick", "orient": "horizontal", "color": "black", "size": 7, "thickness": 1.3}, "encoding": {"y": {"field": "u", "type": "quantitative", "axis": {"title": "EPSP Rise Slope (% Baseline)", "values": [0, 50, 100, 150, 200], "titlePadding": 11, "labelPadding": 2}}}},
      {"mark": {"type": "line", "color": "black", "strokeWidth": 1}, "encoding": {"detail": [{"field": "s"}, {"field": "g"}]}},
      {"mark": {"type": "point", "shape": "circle", "filled": true, "stroke": "black", "strokeWidth": 1, "size": 85, "opacity": 1},
       "encoding": {"fill": {"field": "s", "type": "nominal",
        "scale": {"domain": ["AAV-oChIEF Sham Stim: 4", "AAV-oChIEF LTD: 6"], "range": ["#ff0000", "#0000ff"]},
        "legend": {"orient": "none", "legendX": 29, "legendY": 27, "title": null, "padding": 0, "rowPadding": 1.5, "symbolType": "M-1,0H-0.6M0.6,0H1M-0.6,0A0.6,0.6,0,1,0,0.6,0A0.6,0.6,0,1,0,-0.6,0Z", "symbolSize": 361, "symbolStrokeColor": "black", "symbolStrokeWidth": 1.2, "symbolOpacity": 1, "labelFont": "Liberation Sans", "labelFontSize": 20, "labelColor": "black", "labelOffset": 9, "labelLimit": 400}}}},
      {"data": {"values": [{"t": 13.2, "t2": 23.4, "v": 116}]}, "mark": {"type": "rule", "color": "#0a0aff", "strokeWidth": 4}, "encoding": {"x2": {"field": "t2"}}},
      {"data": {"values": [{"t": 18.3, "v": 120.5, "label": "1 Hz"}]}, "mark": {"type": "text", "fontSize": 19, "baseline": "alphabetic", "color": "black", "font": "Liberation Sans"}, "encoding": {"text": {"field": "label"}}}
     ]
    }
   ]
  }
 ]
}
